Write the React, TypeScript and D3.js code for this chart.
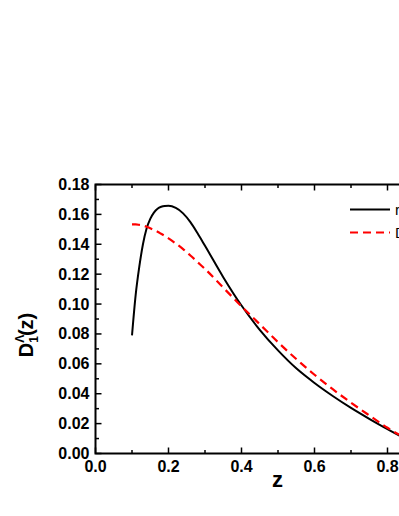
import React from "react";
import * as d3 from "d3";

const zValues = [0.1, 0.11, 0.12, 0.13, 0.14, 0.15, 0.16, 0.17, 0.18, 0.19, 0.2, 0.22, 0.24, 0.26, 0.28, 0.3, 0.35, 0.4, 0.45, 0.5, 0.55, 0.6, 0.65, 0.7, 0.75, 0.8, 0.85, 0.9, 0.95, 1.0];
const solidSeries = [0.079, 0.106, 0.125, 0.140, 0.1505, 0.157, 0.1612, 0.1638, 0.1651, 0.1656, 0.1657, 0.1643, 0.1607, 0.1548, 0.1472, 0.1390, 0.1180, 0.0990, 0.0828, 0.0690, 0.0570, 0.0472, 0.0385, 0.0305, 0.0232, 0.0163, 0.0100, 0.0055, 0.0025, 0.0008];
const dashedSeries = [0.1533, 0.1533, 0.1530, 0.1525, 0.1517, 0.1507, 0.1496, 0.1484, 0.1470, 0.1456, 0.1440, 0.1405, 0.1368, 0.1325, 0.1280, 0.1235, 0.1110, 0.0985, 0.0865, 0.0745, 0.0632, 0.0527, 0.0430, 0.0340, 0.0255, 0.0172, 0.0103, 0.0055, 0.0022, 0.0005];
const xTicks = [0.0, 0.2, 0.4, 0.6, 0.8, 1.0];
const yTicks = [0.0, 0.02, 0.04, 0.06, 0.08, 0.1, 0.12, 0.14, 0.16, 0.18];
const legendLabels = ["rec.", "DSS"];

const FONT = "'Liberation Sans', Arial, sans-serif";

export default function App() {
  const W = 399, H = 516;
  const x = d3.scaleLinear().domain([0, 1.0]).range([95.5, 460.5]);
  const y = d3.scaleLinear().domain([0, 0.18]).range([453.5, 184.5]);
  const line = d3.line<number>().x((_, i) => x(zValues[i])).y((d) => y(d)).curve(d3.curveMonotoneX);

  const xMinor = d3.range(0.1, 1.0, 0.2);
  const yMinor = d3.range(0.01, 0.18, 0.02);
  const majLen = 6, minLen = 3.5;

  return (
    <svg width={W} height={H} style={{ position: "absolute", left: 0, top: 0 }}>
      <defs>
        <clipPath id="plot">
          <rect x={x(0)} y={y(0.18)} width={x(1) - x(0)} height={y(0) - y(0.18)} />
        </clipPath>
      </defs>
      <path d={line(solidSeries) || ""} fill="none" stroke="#000" strokeWidth={2} clipPath="url(#plot)" />
      <path d={line(dashedSeries) || ""} fill="none" stroke="#ff0000" strokeWidth={2.2} strokeDasharray="8,5" clipPath="url(#plot)" />

      {/* frame */}
      <rect x={x(0)} y={y(0.18)} width={x(1) - x(0)} height={y(0) - y(0.18)} fill="none" stroke="#000" strokeWidth={2} />

      {/* x ticks */}
      {xTicks.map((t) => (
        <g key={"xt" + t}>
          <line x1={x(t)} x2={x(t)} y1={y(0)} y2={y(0) - majLen} stroke="#000" strokeWidth={1.5} />
          <line x1={x(t)} x2={x(t)} y1={y(0.18)} y2={y(0.18) + majLen} stroke="#000" strokeWidth={1.5} />
          <text x={x(t)} y={472} textAnchor="middle" fontFamily={FONT} fontWeight="bold" fontSize={16}>{t.toFixed(1)}</text>
        </g>
      ))}
      {xMinor.map((t) => (
        <g key={"xm" + t}>
          <line x1={x(t)} x2={x(t)} y1={y(0)} y2={y(0) - minLen} stroke="#000" strokeWidth={1.5} />
          <line x1={x(t)} x2={x(t)} y1={y(0.18)} y2={y(0.18) + minLen} stroke="#000" strokeWidth={1.5} />
        </g>
      ))}
      {/* y ticks */}
      {yTicks.map((t) => (
        <g key={"yt" + t}>
          <line x1={x(0)} x2={x(0) + majLen} y1={y(t)} y2={y(t)} stroke="#000" strokeWidth={1.5} />
          <text x={89.5} y={y(t) + 5.5} textAnchor="end" fontFamily={FONT} fontWeight="bold" fontSize={16}>{t.toFixed(2)}</text>
        </g>
      ))}
      {yMinor.map((t) => (
        <line key={"ym" + t} x1={x(0)} x2={x(0) + minLen} y1={y(t)} y2={y(t)} stroke="#000" strokeWidth={1.5} />
      ))}

      {/* axis titles */}
      <text x={277.5} y={487} textAnchor="middle" fontFamily={FONT} fontWeight="bold" fontSize={22}>z</text>
      <text transform="translate(33,335) rotate(-90)" textAnchor="middle" fontFamily={FONT} fontWeight="bold" fontSize={20}>
        D<tspan fontSize={12} dy={-9} dx={0}>Λ</tspan><tspan fontSize={12} dx={-8} dy={14}>1</tspan><tspan dy={-5}>(z)</tspan>
      </text>

      {/* legend */}
      <line x1={350} x2={390} y1={209.5} y2={209.5} stroke="#000" strokeWidth={2} />
      <text x={395} y={215} fontFamily={FONT} fontSize={15}>{legendLabels[0]}</text>
      <line x1={350} x2={390} y1={232.5} y2={232.5} stroke="#ff0000" strokeWidth={2.2} strokeDasharray="8,5" />
      <text x={395} y={238} fontFamily={FONT} fontSize={15}>{legendLabels[1]}</text>
    </svg>
  );
}
